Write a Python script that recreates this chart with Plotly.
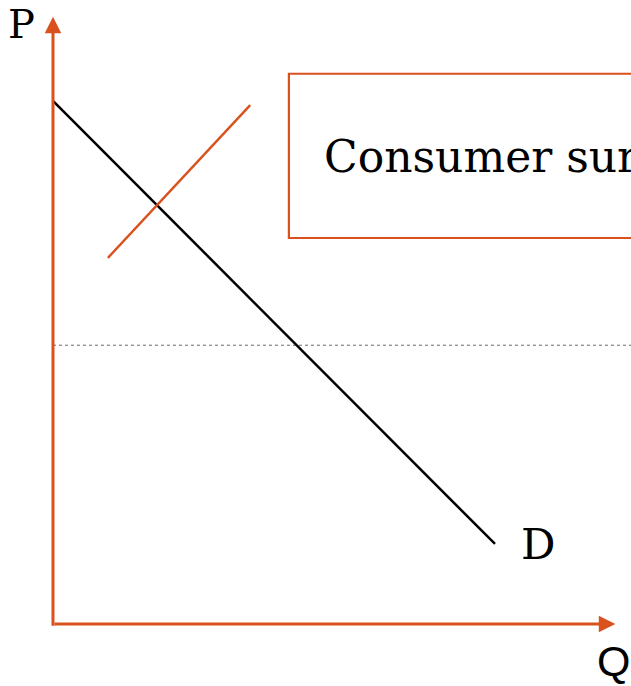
import plotly.graph_objects as go

# --- data (economic units: Q along x, P along y) ---------------------
demand_q = [0.0, 8.45]
demand_p = [10.0, 1.53]

cross_q = [1.05, 3.77]      # short orange line crossing the demand curve
cross_p = [7.0, 9.92]

price_level = 5.33          # dotted horizontal price line
price_q = [0.0, 12.0]

q_axis_end = 10.75
p_axis_end = 11.61

box_q = [4.51, 12.5]        # callout box (runs off the right edge)
box_p = [7.38, 10.52]
box_text = "Consumer surplus"

ORANGE = "#D9511D"
SERIF = "DejaVu Serif"

fig = go.Figure()

# dotted price line
fig.add_trace(go.Scatter(
    x=price_q, y=[price_level, price_level], mode="lines",
    line=dict(color="#6f6a60", width=1, dash="dot"),
    hoverinfo="skip", showlegend=False,
))

# demand curve
fig.add_trace(go.Scatter(
    x=demand_q, y=demand_p, mode="lines",
    line=dict(color="black", width=2.5),
    showlegend=False,
))

# short orange line
fig.add_trace(go.Scatter(
    x=cross_q, y=cross_p, mode="lines",
    line=dict(color=ORANGE, width=2.4),
    showlegend=False,
))

# callout box
fig.add_shape(type="rect", xref="x", yref="y",
              x0=box_q[0], x1=box_q[1], y0=box_p[0], y1=box_p[1],
              line=dict(color=ORANGE, width=2.2), fillcolor="rgba(0,0,0,0)")

annotations = [
    # axes drawn as arrows
    dict(x=0, y=p_axis_end, ax=0, ay=-0.06, xref="x", yref="y",
         axref="x", ayref="y", showarrow=True, arrowhead=2, arrowsize=1.1,
         arrowwidth=3, arrowcolor=ORANGE, text="", standoff=0),
    dict(x=q_axis_end, y=0, ax=0, ay=0, xref="x", yref="y",
         axref="x", ayref="y", showarrow=True, arrowhead=2, arrowsize=1.1,
         arrowwidth=3, arrowcolor=ORANGE, text="", standoff=0),
    # labels
    dict(x=-0.61, y=11.48, text="P", showarrow=False,
         font=dict(family=SERIF, size=40, color="black")),
    dict(x=10.71, y=-0.71, text="Q", showarrow=False,
         font=dict(family="Liberation Sans", size=43, color="black")),
    dict(x=8.9, y=1.53, text="D", showarrow=False, xanchor="left",
         font=dict(family=SERIF, size=43, color="black")),
    dict(x=5.15, y=8.93, text=box_text, showarrow=False, xanchor="left",
         font=dict(family=SERIF, size=44, color="black")),
]

fig.update_layout(
    width=631, height=686,
    margin=dict(l=0, r=0, t=0, b=0),
    paper_bgcolor="white", plot_bgcolor="white",
    xaxis=dict(range=[-1.013, 11.05], visible=False, fixedrange=True),
    yaxis=dict(range=[-1.185, 11.93], visible=False, fixedrange=True),
    annotations=annotations,
    showlegend=False,
)

fig.write_html("out.html", config={"displayModeBar": False},
               post_script="document.body.style.margin='0';")
